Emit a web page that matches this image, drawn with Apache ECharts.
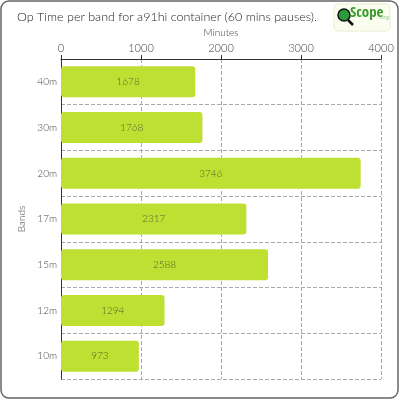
<!DOCTYPE html>
<html><head><meta charset="utf-8">
<script src="https://cdn.jsdelivr.net/npm/echarts@6/dist/echarts.min.js"></script>
<style>html,body{margin:0;padding:0;background:#fff}#c{width:400px;height:400px}</style>
</head><body><div id="c"></div>
<script>
const categories = ['10m','12m','15m','17m','20m','30m','40m'];
const values = [973,1294,2588,2317,3746,1768,1678];
const xTicks = [0,1000,2000,3000,4000];
const chart = echarts.init(document.getElementById('c'));
chart.setOption({
  animation:false,
  textStyle:{fontFamily:'Lato',fontWeight:300},
  graphic:[
    {type:'rect',shape:{x:1,y:1,width:397,height:397,r:8},style:{fill:'none',stroke:'#666',lineWidth:1.5}},
    {type:'rect',shape:{x:334,y:4,width:56,height:27,r:4},style:{fill:'#fbfdf0',stroke:'#e8eed0'}},
    {type:'circle',shape:{cx:344,cy:15,r:6},style:{fill:'#2a9a3a',stroke:'#111',lineWidth:1.5}},
    {type:'line',shape:{x1:348,y1:20,x2:353,y2:25},style:{stroke:'#111',lineWidth:2.5}},
    {type:'text',x:350,y:6,style:{text:'Scope',fill:'#3a9a2a',font:'bold 15px "Open Sans Condensed", "DejaVu Sans Condensed"'}},
    {type:'text',x:379,y:14,style:{text:'.org',fill:'#9c9',font:'6px Lato'}},
    {type:'text',x:17,y:10,style:{text:'Op Time per band for a91hi container (60 mins pauses).',fill:'#222',font:'300 12.5px Lato'}}
  ],
  grid:{left:61,right:19,top:59,bottom:21,containLabel:false},
  xAxis:{type:'value',position:'top',min:0,max:4000,interval:1000,name:'Minutes',nameLocation:'middle',nameGap:14,
    nameTextStyle:{color:'#444',fontSize:10},
    axisLine:{show:true,lineStyle:{color:'#333'}},axisTick:{show:true,length:4,lineStyle:{color:'#333'}},
    axisLabel:{color:'#444',fontSize:11,margin:5,formatter:v=>xTicks.includes(v)?String(v):''},
    splitLine:{lineStyle:{type:'dashed',color:'#aaa'}}},
  yAxis:{type:'category',data:categories,name:'Bands',nameLocation:'middle',nameGap:28,nameTextStyle:{color:'#444',fontSize:10},
    axisLine:{lineStyle:{color:'#333'}},axisTick:{alignWithLabel:true,length:3,lineStyle:{color:'#333'}},
    axisLabel:{color:'#444',fontSize:10,margin:4},
    splitLine:{show:true,lineStyle:{type:'dashed',color:'#aaa'}}},
  series:[{type:'bar',data:values,barWidth:31,itemStyle:{color:'#bde032',borderRadius:3},
    label:{show:true,position:'inside',color:'#556633',fontSize:10,fontFamily:'Lato'}}]
});
</script></body></html>
